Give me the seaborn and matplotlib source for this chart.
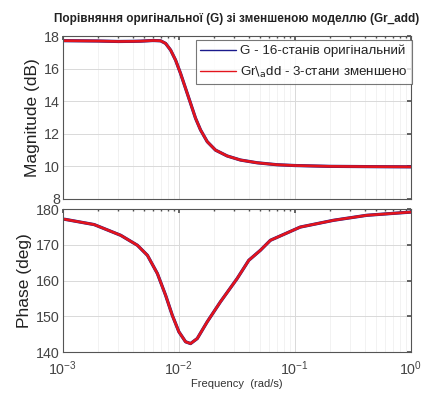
import matplotlib
matplotlib.use("Agg")
import matplotlib.pyplot as plt
import seaborn as sns
import pandas as pd
import numpy as np
from matplotlib.ticker import LogLocator, NullFormatter

# ---- data ----
freq = [0.001, 0.002, 0.003, 0.004, 0.00468, 0.006, 0.00696, 0.00768, 0.00848,
        0.00936, 0.01033, 0.01141, 0.0126, 0.01391, 0.01536, 0.01754, 0.02067,
        0.02605, 0.03389, 0.04717, 0.07, 0.1, 0.2, 0.5, 1.0]
mag_db = [17.72, 17.70, 17.67, 17.68, 17.69, 17.73, 17.71, 17.55, 17.14,
          16.52, 15.70, 14.78, 13.86, 12.94, 12.22, 11.50, 10.98,
          10.62, 10.37, 10.20, 10.08, 10.03, 9.98, 9.96, 9.95]
freq_ph = [0.00103, 0.00186, 0.00315, 0.00439, 0.00535, 0.00652, 0.00768, 0.00877,
           0.00999, 0.01141, 0.0126, 0.01438, 0.01754, 0.02281, 0.03175, 0.04,
           0.05035, 0.0614, 0.111, 0.215, 0.416, 1.0]
phase_deg = [177.2, 175.7, 172.7, 169.9, 167.1, 162.0, 155.9, 150.3,
             145.7, 142.9, 142.4, 143.8, 148.5, 154.1, 160.6, 165.7,
             168.5, 171.3, 175.0, 176.9, 178.3, 179.2]

labels = ["G - 16-станів оригінальний",
          r"Gr$\backslash_{\mathrm{a}}$dd - 3-стани зменшено"]
title = "Порівняння оригінальної (G) зі зменшеною моделлю (Gr_add)"

sns.set_theme(style="white")
plt.rcParams['font.family'] = ['Liberation Sans', 'DejaVu Sans']

fig = plt.figure(figsize=(4.25, 3.97), dpi=100)
ax1 = fig.add_axes([0.148, 0.500, 0.819, 0.409])
ax2 = fig.add_axes([0.148, 0.113, 0.819, 0.360])

df_mag = pd.DataFrame({"f": freq, "m": mag_db})
df_ph = pd.DataFrame({"f": freq_ph, "p": phase_deg})

for ax, df, ycol in [(ax1, df_mag, "m"), (ax2, df_ph, "p")]:
    sns.lineplot(data=df, x="f", y=ycol, ax=ax, color="#1a1a8c", lw=2.3, label=labels[0])
    sns.lineplot(data=df, x="f", y=ycol, ax=ax, color="#e3141c", lw=1.9, label=labels[1])
    ax.set_xscale("log")
    ax.set_xlim(1e-3, 1)
    ax.xaxis.set_major_locator(LogLocator(base=10, numticks=10))
    ax.xaxis.set_minor_locator(LogLocator(base=10, subs=np.arange(2, 10), numticks=20))
    ax.xaxis.set_minor_formatter(NullFormatter())
    ax.grid(True, which="major", color="#d9d9d9", lw=0.7)
    ax.grid(True, which="minor", axis="x", color="#ededed", lw=0.5)
    ax.tick_params(which="both", direction="in", top=True, right=True,
                   colors="#505050", labelcolor="#444444", labelsize=10.3, pad=2)
    ax.tick_params(which="major", length=3)
    ax.tick_params(which="minor", length=1.5)
    for s in ax.spines.values():
        s.set_color("#555555")
        s.set_linewidth(0.8)
    ax.set_xlabel("")

ax1.set_ylim(8, 18)
ax1.set_yticks([8, 10, 12, 14, 16, 18])
ax1.tick_params(axis="x", labelbottom=False)
ax1.set_ylabel("Magnitude (dB)", fontsize=12.5, color="#222222", labelpad=3)
ax1.set_title(title, fontsize=8.5, fontweight="bold", color="#222222", pad=10)
leg = ax1.legend(loc="upper right", bbox_to_anchor=(1.003, 0.975), fontsize=9.6,
                 frameon=True, fancybox=False, edgecolor="#555555", handlelength=2.7,
                 borderaxespad=0.0, labelspacing=0.55, handletextpad=0.25,
                 borderpad=0.35)
leg.get_frame().set_linewidth(0.8)
for h in leg.get_lines():
    h.set_linewidth(1.0)
for t in leg.get_texts():
    t.set_color("#222222")

ax2.set_ylim(140, 180)
ax2.set_yticks([140, 150, 160, 170, 180])
ax2.tick_params(axis="x", pad=5)
ax2.set_ylabel("Phase (deg)", fontsize=12.5, color="#222222", labelpad=3)
ax2.set_xlabel("Frequency  (rad/s)", fontsize=8, color="#333333", labelpad=1)
ax2.get_legend().remove()

fig.savefig("out.png", dpi=100)
